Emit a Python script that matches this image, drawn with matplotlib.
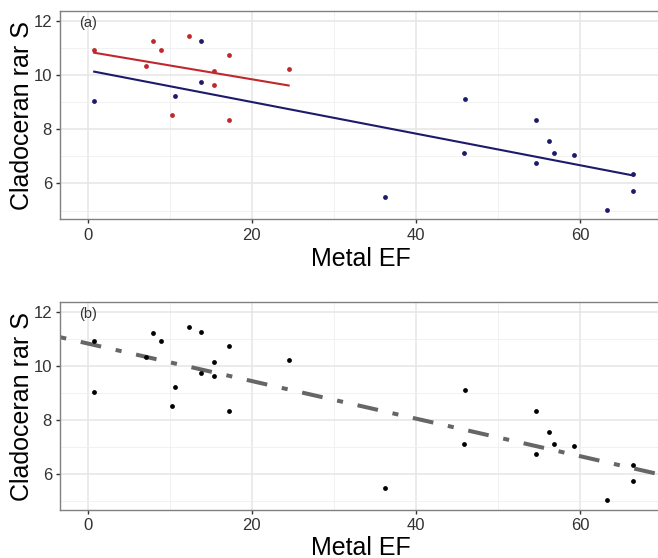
import numpy as np
import matplotlib
matplotlib.use("Agg")
import matplotlib.pyplot as plt

plt.rcParams['font.family'] = ['Liberation Sans', 'DejaVu Sans']

# ---- data ----
red_x = [0.8, 7.1, 8.0, 8.9, 10.3, 12.3, 15.4, 15.4, 17.2, 17.2, 24.5]
red_y = [10.92, 10.33, 11.23, 10.92, 8.53, 11.44, 10.15, 9.63, 10.72, 8.33, 10.22]
blue_x = [0.8, 10.6, 13.8, 13.8, 36.3, 45.9, 46.0, 54.6, 54.6, 56.2, 56.8, 59.3, 63.3, 66.5, 66.5]
blue_y = [9.04, 9.23, 11.24, 9.74, 5.51, 7.12, 9.12, 8.33, 6.74, 7.56, 7.12, 7.04, 5.04, 6.34, 5.74]

x_major = [0, 20, 40, 60]
x_minor = [10, 30, 50, 70]
y_major = [6, 8, 10, 12]
y_minor = [5, 7, 9, 11]
panel_labels = ['(a)', '(b)']
xlabel = 'Metal EF'
ylabel = 'Cladoceran rar S'

RED = '#c0282d'
BLUE = '#1c1a6b'
GREY_LINE = '#666666'

W, H = 658, 558
fig = plt.figure(figsize=(W / 100, H / 100), dpi=100)

XLIM = (-3.33, 69.76)
YLIM = (4.68, 12.35)


def px_axes(left, top, right, bottom):
    return fig.add_axes([left / W, 1 - bottom / H, (right - left) / W, (bottom - top) / H])


def style(ax, label):
    ax.set_xlim(*XLIM)
    ax.set_ylim(*YLIM)
    ax.set_xticks(x_major)
    ax.set_xticks(x_minor, minor=True)
    ax.set_yticks(y_major)
    ax.set_yticks(y_minor, minor=True)
    ax.grid(which='major', color='#e6e6e6', lw=1.1, zorder=0)
    ax.grid(which='minor', color='#efefef', lw=0.6, zorder=0)
    ax.set_axisbelow(True)
    for s in ax.spines.values():
        s.set_color('#808080')
        s.set_linewidth(1.0)
    ax.tick_params(which='major', length=3, width=1, color='#333333',
                   labelsize=12, labelcolor='#333333', pad=3)
    ax.tick_params(which='minor', length=0)
    ax.text(0, 11.9, label, ha='center', va='center', fontsize=10.5, color='#333333')


# ---- panel (a) ----
axa = px_axes(60.3, 11, 662, 219.3)
style(axa, panel_labels[0])
axa.scatter(red_x, red_y, s=12, color=RED, zorder=3, linewidths=0)
axa.scatter(blue_x, blue_y, s=12, color=BLUE, zorder=3, linewidths=0)
for xs, ys, c in [(red_x, red_y, RED), (blue_x, blue_y, BLUE)]:
    k, b = np.polyfit(xs, ys, 1)
    xx = np.array([min(xs), max(xs)])
    axa.plot(xx, k * xx + b, color=c, lw=1.5, zorder=2)
axa.set_xlabel(xlabel, fontsize=18, labelpad=3)

# ---- panel (b) ----
axb = px_axes(60.3, 302.3, 662, 510)
style(axb, panel_labels[1])
all_x = red_x + blue_x
all_y = red_y + blue_y
k, b = np.polyfit(all_x, all_y, 1)
xx = np.array(XLIM)
axb.plot(xx, k * xx + b, color=GREY_LINE, lw=2.9,
         linestyle=(0, (1.5, 3.7, 5.2, 3.7)), zorder=2, solid_capstyle='butt')
axb.scatter(all_x, all_y, s=12, color='black', zorder=3, linewidths=0)
axb.set_xlabel(xlabel, fontsize=18, labelpad=2)

for ax, top, bot in [(axa, 11, 219.3), (axb, 302.3, 510)]:
    fig.text(21.7 / W, 1 - (top + bot) / 2 / H, ylabel, rotation=90,
             ha='center', va='center', fontsize=18)

fig.savefig('out.png', dpi=100)
